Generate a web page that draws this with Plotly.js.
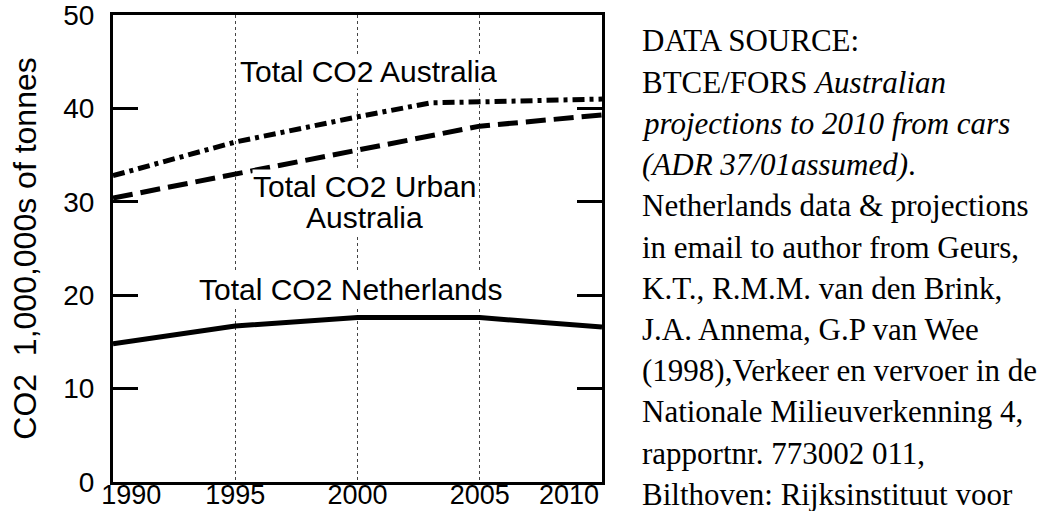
<!DOCTYPE html>
<html>
<head>
<meta charset="utf-8">
<script src="https://cdn.plot.ly/plotly-3.0.1.min.js"></script>
<style>html,body{margin:0;padding:0;background:#fff;}#chart{width:1045px;height:511px;}</style>
</head>
<body>
<div id="chart"></div>
<script>
// ---- data ----
const yearTicks = [1990, 1995, 2000, 2005, 2010];
const yearLabels = ['1990', '1995', '2000', '2005', '2010'];
const yTicks = [0, 10, 20, 30, 40, 50];

const ausYears = [1990, 1995, 2000, 2003, 2005, 2010];
const ausTotal = [32.8, 36.4, 39.1, 40.6, 40.7, 41.0];

const urbanYears = [1990, 1995, 2000, 2005, 2010];
const urbanTotal = [30.4, 33.0, 35.5, 38.1, 39.3];

const nlYears = [1990, 1995, 2000, 2005, 2010];
const nlTotal = [14.8, 16.7, 17.6, 17.6, 16.6];

const seriesLabels = ['Total CO2 Australia', 'Total CO2 Urban', 'Australia', 'Total CO2 Netherlands'];
const yTitle = 'CO2\u00a0 1,000,000s of tonnes';

const sourceLines = [
  'DATA SOURCE:',
  'BTCE/FORS <i>Australian</i>',
  '<i>projections to 2010 from cars</i>',
  '<i>(ADR 37/01assumed)</i>.',
  'Netherlands data &amp; projections',
  'in email to author from Geurs,',
  'K.T., R.M.M. van den Brink,',
  'J.A. Annema, G.P van Wee',
  '(1998),Verkeer en vervoer in de',
  'Nationale Milieuverkenning 4,',
  'rapportnr. 773002 011,',
  'Bilthoven: Rijksinstituut voor'
];

// ---- layout geometry (pixels) ----
const W = 1045, H = 511;
const L = 113, R = 602, T = 15, B = 482;
const pw = R - L, ph = B - T;
const sans = 'Liberation Sans, Arial, Helvetica, sans-serif';
const serif = 'Liberation Serif, Times New Roman, serif';

const traces = [
  {x: ausYears, y: ausTotal, mode: 'lines', line: {color: '#000', width: 5, dash: '12px,5px,4px,5px'}, hoverinfo: 'skip'},
  {x: urbanYears, y: urbanTotal, mode: 'lines', line: {color: '#000', width: 5, dash: '20px,8px'}, hoverinfo: 'skip'},
  // same range as x; this axis carries the year labels
  {x: nlYears, y: nlTotal, xaxis: 'x2', mode: 'lines', line: {color: '#000', width: 5}, hoverinfo: 'skip'}
];

// tick label placement: end labels sit inside the frame as in the reference
const labelPos = yearTicks.map((v, i) => i === 0 ? v + 0.75 : (i === yearTicks.length - 1 ? v - 1.35 : v));

const annotations = [];
const lblFont = {family: sans, size: 30, color: '#000'};
annotations.push({xref: 'x', yref: 'y', x: 2000.45, y: 43.9, text: seriesLabels[0], showarrow: false, font: lblFont, bgcolor: '#fff', borderpad: 0});
annotations.push({xref: 'x', yref: 'y', x: 2000.3, y: 31.6, text: seriesLabels[1], showarrow: false, font: lblFont, bgcolor: '#fff', borderpad: 0});
annotations.push({xref: 'x', yref: 'y', x: 2000.3, y: 28.3, text: seriesLabels[2], showarrow: false, font: lblFont, bgcolor: '#fff', borderpad: 0});
annotations.push({xref: 'x', yref: 'y', x: 1999.75, y: 20.6, text: seriesLabels[3], showarrow: false, font: lblFont, bgcolor: '#fff', borderpad: 0});

sourceLines.forEach((t, i) => {
  const yc = 41 + 41.2 * i;
  annotations.push({
    xref: 'paper', yref: 'paper',
    x: (640 - L) / pw, y: (B - yc) / ph,
    xanchor: 'left', yanchor: 'middle',
    text: t, showarrow: false, align: 'left',
    font: {family: serif, size: 31, color: '#000'}
  });
});

const layout = {
  width: W, height: H,
  margin: {l: L, r: W - R, t: T, b: H - B, pad: 0},
  paper_bgcolor: '#fff', plot_bgcolor: '#fff',
  showlegend: false,
  xaxis: {
    range: [1990, 2010], tickvals: yearTicks, showticklabels: false,
    showgrid: true, gridcolor: '#444', gridwidth: 1, griddash: '3px,3px',
    showline: true, linecolor: '#000', linewidth: 3, mirror: true,
    ticks: '', zeroline: false, fixedrange: true
  },
  xaxis2: {
    overlaying: 'x', anchor: 'y', side: 'bottom', range: [1990, 2010],
    tickvals: labelPos, ticktext: yearLabels, showgrid: false, showline: false,
    ticks: '', zeroline: false, tickfont: {family: sans, size: 27, color: '#000'},
    ticklabeloverflow: 'allow', ticklabelstandoff: -6,
    fixedrange: true
  },
  yaxis: {
    range: [0, 50], tickvals: yTicks, ticks: 'inside', ticklen: 25, tickwidth: 3, tickcolor: '#000',
    mirror: 'ticks', showline: true, linecolor: '#000', linewidth: 3, showgrid: false, zeroline: false,
    tickfont: {family: sans, size: 28, color: '#000'}, ticklabelstandoff: 10, ticklabeloverflow: 'allow',
    title: {text: yTitle, font: {family: sans, size: 32, color: '#000'}, standoff: 18},
    fixedrange: true
  },
  annotations: annotations
};

Plotly.newPlot('chart', traces, layout, {displayModeBar: false, staticPlot: true});
</script>
</body>
</html>
